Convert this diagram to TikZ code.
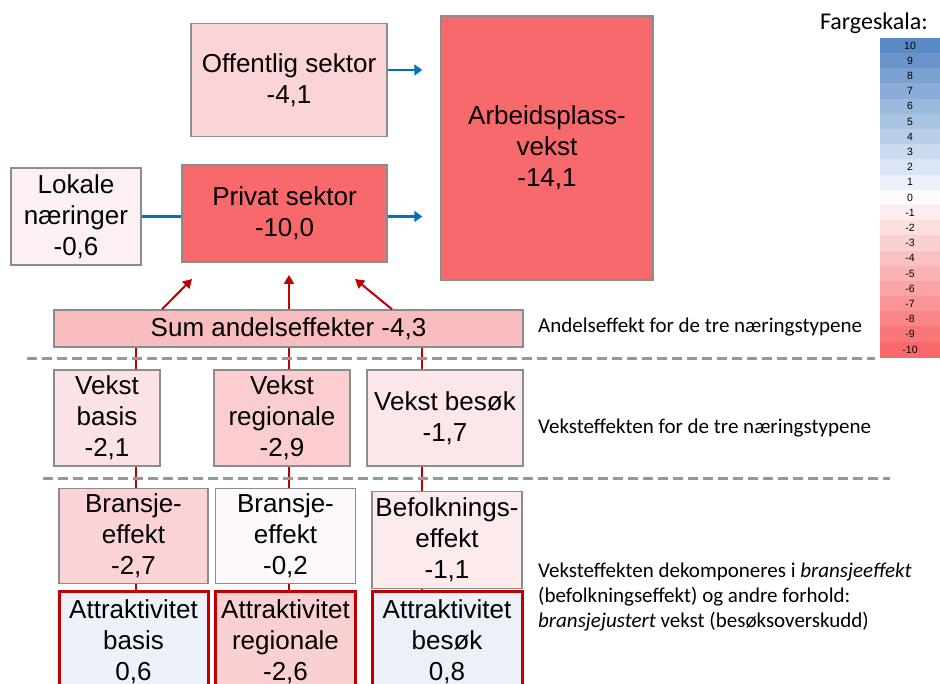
\documentclass[tikz,border=0pt]{standalone}
\usepackage{fontspec}
\setmainfont{Liberation Sans}
\newfontfamily\notefont{Carlito}
\usetikzlibrary{arrows.meta, positioning}
\definecolor{xred}{HTML}{F8696B}
\definecolor{xmid}{HTML}{FCFCFF}
\definecolor{xblue}{HTML}{5A8AC6}
\definecolor{boxgray}{HTML}{8C8C8C}
\definecolor{arrowblue}{HTML}{0070C0}
\definecolor{darkred}{HTML}{C00000}
\tikzset{
  x=1pt, y=-1pt,
  box/.style={draw=boxgray, line width=1.5pt, align=center, inner sep=0pt,
    font=\fontsize{26}{31}\selectfont},
  attrbox/.style={box, draw=darkred, line width=3pt},
  bluearrow/.style={draw=arrowblue, line width=2.5pt, -{Triangle[length=8pt,width=11pt]}},
  redarrow/.style={draw=darkred, line width=2pt, -{Triangle[length=9pt,width=10pt]}},
  redline/.style={draw=darkred, line width=2.5pt},
  sepline/.style={draw=boxgray!90, line width=3pt, dash pattern=on 10pt off 5pt},
  note/.style={anchor=base west, inner sep=0pt, align=left,
    font=\notefont\fontsize{21}{25}\selectfont},
  cell/.style={minimum width=60, minimum height=15.19, inner sep=0pt,
    font=\fontsize{10.5}{10.5}\selectfont}
}

\begin{document}
\begin{tikzpicture}
  \useasboundingbox (0,0) rectangle (940,684);
  \clip (0,0) rectangle (940,684);

  % top row
  \node[box, fill=xred!27!xmid, minimum width=196, minimum height=113] (off) at (289,80) {Offentlig sektor\\-4,1};
  \node[box, fill=xred, minimum width=212, minimum height=264] (arb) at (547,148) {Arbeidsplass-\\vekst\\-14,1};
  \node[box, fill=xred!8!xmid, minimum width=130, minimum height=97] (lok) at (76,216.5) {Lokale\\næringer\\-0,6};
  \node[box, fill=xred, minimum width=205, minimum height=97] (priv) at (284.5,213.5) {Privat sektor\\-10,0};
  \node[box, fill=xred!43!xmid, minimum width=469, minimum height=37] (sum) at (288.5,328.5) {Sum andelseffekter -4,3};

  % vekst
  \node[box, fill=xred!18!xmid, minimum width=106, minimum height=96] (vbas) at (107,418) {Vekst\\basis\\-2,1};
  \node[box, fill=xred!32!xmid, minimum width=136, minimum height=96] (vreg) at (282,418) {Vekst\\regionale\\-2,9};
  \node[box, fill=xred!15!xmid, minimum width=156, minimum height=96] (vbes) at (445,418) {Vekst besøk\\-1,7};

  % bransje / befolkning
  \node[box, fill=xred!28!xmid, minimum width=149, minimum height=95] (bbas) at (133.5,536) {Bransje-\\effekt\\-2,7};
  \node[box, fill=xred!3!xmid, minimum width=140, minimum height=95] (breg) at (285.5,536) {Bransje-\\effekt\\-0,2};
  \node[box, fill=xred!12!xmid, minimum width=150, minimum height=97] (bbes) at (447,540) {Befolknings-\\effekt\\-1,1};

  % attraktivitet
  \node[attrbox, fill=xblue!9!xmid, minimum width=149, minimum height=101] (abas) at (133.5,641.5) {Attraktivitet\\basis\\0,6};
  \node[attrbox, fill=xred!30!xmid, minimum width=140, minimum height=101] (areg) at (285.5,641.5) {Attraktivitet\\regionale\\-2,6};
  \node[attrbox, fill=xblue!10!xmid, minimum width=150, minimum height=101] (abes) at (447,641.5) {Attraktivitet\\besøk\\0,8};

  % blue arrows
  \draw[bluearrow, shorten >=18pt] ([yshift=10pt]off.east) -- ([yshift=10pt]off.east -| arb.west);
  \draw[bluearrow, shorten >=18pt] (lok.east -| priv.east) -- (lok.east -| arb.west);
  \draw[draw=arrowblue, line width=2.5pt] (lok.east) -- (lok.east -| priv.west);

  % red arrows up to privat sektor
  \coordinate (pa1) at (192,279);
  \coordinate (pa2) at (289,275);
  \coordinate (pa3) at (355,279);
  \draw[redarrow] (sum.north -| 162,0) -- (pa1);
  \draw[redarrow] (sum.north -| pa2) -- (pa2);
  \draw[redarrow] (sum.north -| 392,0) -- (pa3);

  % red links
  \draw[redline] (sum.south -| 136,0) -- (vbas.north -| 136,0);
  \draw[redline] (vbas.south -| 136,0) -- (bbas.north -| 136,0);
  \draw[redline] (bbas.south -| 136,0) -- (abas.north -| 136,0);
  \draw[redline] (sum.south -| 289,0) -- (vreg.north -| 289,0);
  \draw[redline] (vreg.south -| 289,0) -- (breg.north -| 289,0);
  \draw[redline] (breg.south -| 289,0) -- (areg.north -| 289,0);
  \draw[redline] (sum.south -| 422,0) -- (vbes.north -| 422,0);
  \draw[redline] (vbes.south -| 422,0) -- (bbes.north -| 422,0);
  \draw[redline] (bbes.south -| 422,0) -- (abes.north -| 422,0);

  % separators
  \draw[sepline] (27,359) -- (875,359);
  \draw[sepline] (43,478) -- (890,478);

  % notes
  \node[note] (n1) at (538,333) {Andelseffekt for de tre næringstypene};
  \node[note] (n2) at (538,434) {Veksteffekten for de tre næringstypene};
  \node[note] (n3) at (538,627) {Veksteffekten dekomponeres i \textit{bransjeeffekt}\\(befolkningseffekt) og andre forhold:\\\textit{bransjejustert} vekst (besøksoverskudd)};

  % colour scale
  \node[anchor=base east, inner sep=0pt, font=\notefont\fontsize{24}{28}\selectfont] (fs) at (928,30) {Fargeskala:};
  \foreach \v [count=\i from 0] in {10,9,...,-10} {
    \pgfmathtruncatemacro\pct{abs(\v)*10}
    \ifnum\v>0 \colorlet{cellc}{xblue!\pct!xmid}\else\colorlet{cellc}{xred!\pct!xmid}\fi
    \node[cell, fill=cellc, draw=cellc, line width=0.3pt] (c\i) at (910,45.6+15.19*\i) {\v};
  }
\end{tikzpicture}
\end{document}
